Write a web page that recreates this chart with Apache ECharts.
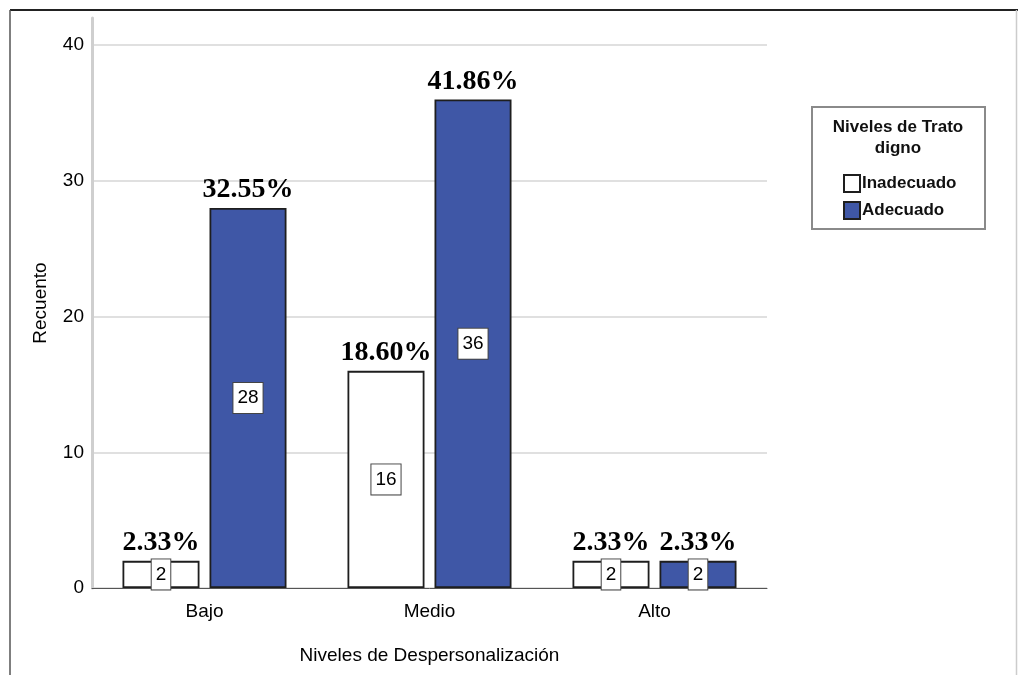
<!DOCTYPE html>
<html>
<head>
<meta charset="utf-8">
<script src="https://cdn.jsdelivr.net/npm/echarts@6/dist/echarts.min.js"></script>
<style>
  html, body { margin: 0; padding: 0; background: #fff; }
  #chart { width: 1018px; height: 675px; }
</style>
</head>
<body>
<div id="chart"></div>
<script>
// datos
var categorias = ['Bajo', 'Medio', 'Alto'];
var inadecuado = [2, 16, 2];
var adecuado = [28, 36, 2];
var pctInadecuado = ['2.33%', '18.60%', '2.33%'];
var pctAdecuado = ['32.55%', '41.86%', '2.33%'];
var ceros = [0, 0, 0];
var yTicks = { min: 0, max: 42, interval: 10 };

var azul = '#3F57A6';
var borde = '#1e1e1e';

var countLabel = {
    show: true,
    position: 'inside',
    color: '#000',
    fontFamily: 'Liberation Sans, Arial',
    fontSize: 19,
    backgroundColor: '#fff',
    borderColor: '#444',
    borderWidth: 1,
    padding: [6, 4, 5, 4]
};

function pctLabel(arr) {
    return {
        show: true,
        position: 'top',
        distance: 4,
        color: '#000',
        fontFamily: 'Liberation Serif, Times New Roman',
        fontWeight: 'bold',
        fontSize: 28,
        formatter: function (p) { return arr[p.dataIndex]; }
    };
}

var option = {
    animation: false,
    backgroundColor: '#fff',
    grid: { left: 92, right: 251, top: 18, bottom: 87 },
    legend: {
        data: ['Inadecuado', 'Adecuado'],
        orient: 'vertical',
        left: 838,
        top: 169,
        itemWidth: 16,
        itemHeight: 17,
        itemGap: 8,
        icon: 'rect',
        textStyle: {
            fontFamily: 'Liberation Sans, Arial',
            fontWeight: 'bold',
            fontSize: 17,
            color: '#111',
            padding: [0, 0, 0, -3]
        }
    },
    xAxis: {
        type: 'category',
        data: categorias,
        name: 'Niveles de Despersonalización',
        nameLocation: 'middle',
        nameGap: 58,
        nameTextStyle: { fontFamily: 'Liberation Sans, Arial', fontSize: 19, color: '#000' },
        axisLine: { lineStyle: { color: '#555', width: 1 } },
        axisTick: { show: false },
        axisLabel: { margin: 14, fontFamily: 'Liberation Sans, Arial', fontSize: 19, color: '#000' }
    },
    yAxis: {
        type: 'value',
        min: yTicks.min,
        max: yTicks.max,
        interval: yTicks.interval,
        name: 'Recuento',
        nameLocation: 'middle',
        nameGap: 42,
        nameTextStyle: { fontFamily: 'Liberation Sans, Arial', fontSize: 19, color: '#000' },
        axisLine: { show: true, lineStyle: { color: '#cfcfcf', width: 3 } },
        axisTick: { show: false },
        axisLabel: { margin: 8, showMaxLabel: false, fontFamily: 'Liberation Sans, Arial', fontSize: 19, color: '#000' },
        splitLine: { show: true, showMaxLine: false, lineStyle: { color: '#d6d6d6', width: 1.5 } }
    },
    series: [
        {
            name: 'Inadecuado',
            type: 'bar',
            stack: 'i',
            data: inadecuado,
            barWidth: 77,
            barGap: '13%',
            itemStyle: { color: '#fff', borderColor: borde, borderWidth: 1.8 },
            label: countLabel
        },
        {
            name: 'pctI',
            type: 'bar',
            stack: 'i',
            data: ceros,
            barWidth: 77,
            itemStyle: { color: 'transparent', borderWidth: 0 },
            label: pctLabel(pctInadecuado)
        },
        {
            name: 'Adecuado',
            type: 'bar',
            stack: 'a',
            data: adecuado,
            barWidth: 77,
            barGap: '13%',
            itemStyle: { color: azul, borderColor: borde, borderWidth: 1.8 },
            label: countLabel
        },
        {
            name: 'pctA',
            type: 'bar',
            stack: 'a',
            data: ceros,
            barWidth: 77,
            barGap: '13%',
            itemStyle: { color: 'transparent', borderWidth: 0 },
            label: pctLabel(pctAdecuado)
        }
    ],
    graphic: [
        // marco
        { type: 'line', shape: { x1: 10, y1: 10, x2: 1018, y2: 10 }, style: { stroke: '#222', lineWidth: 2 } },
        { type: 'line', shape: { x1: 10, y1: 10, x2: 10, y2: 675 }, style: { stroke: '#555', lineWidth: 1.5 } },
        { type: 'line', shape: { x1: 1016.5, y1: 10, x2: 1016.5, y2: 675 }, style: { stroke: '#ccc', lineWidth: 1.5 } },
        // caja de leyenda
        { type: 'rect', shape: { x: 812, y: 107, width: 173, height: 122 }, style: { fill: 'none', stroke: '#8a8a8a', lineWidth: 2 }, z: 1 },
        {
            type: 'text', x: 898, y: 117, z: 2,
            style: {
                text: 'Niveles de Trato\ndigno',
                align: 'center',
                fill: '#111',
                font: 'bold 17px "Liberation Sans", Arial',
                lineHeight: 21
            }
        }
    ]
};

var chart = echarts.init(document.getElementById('chart'));
chart.setOption(option);
</script>
</body>
</html>
